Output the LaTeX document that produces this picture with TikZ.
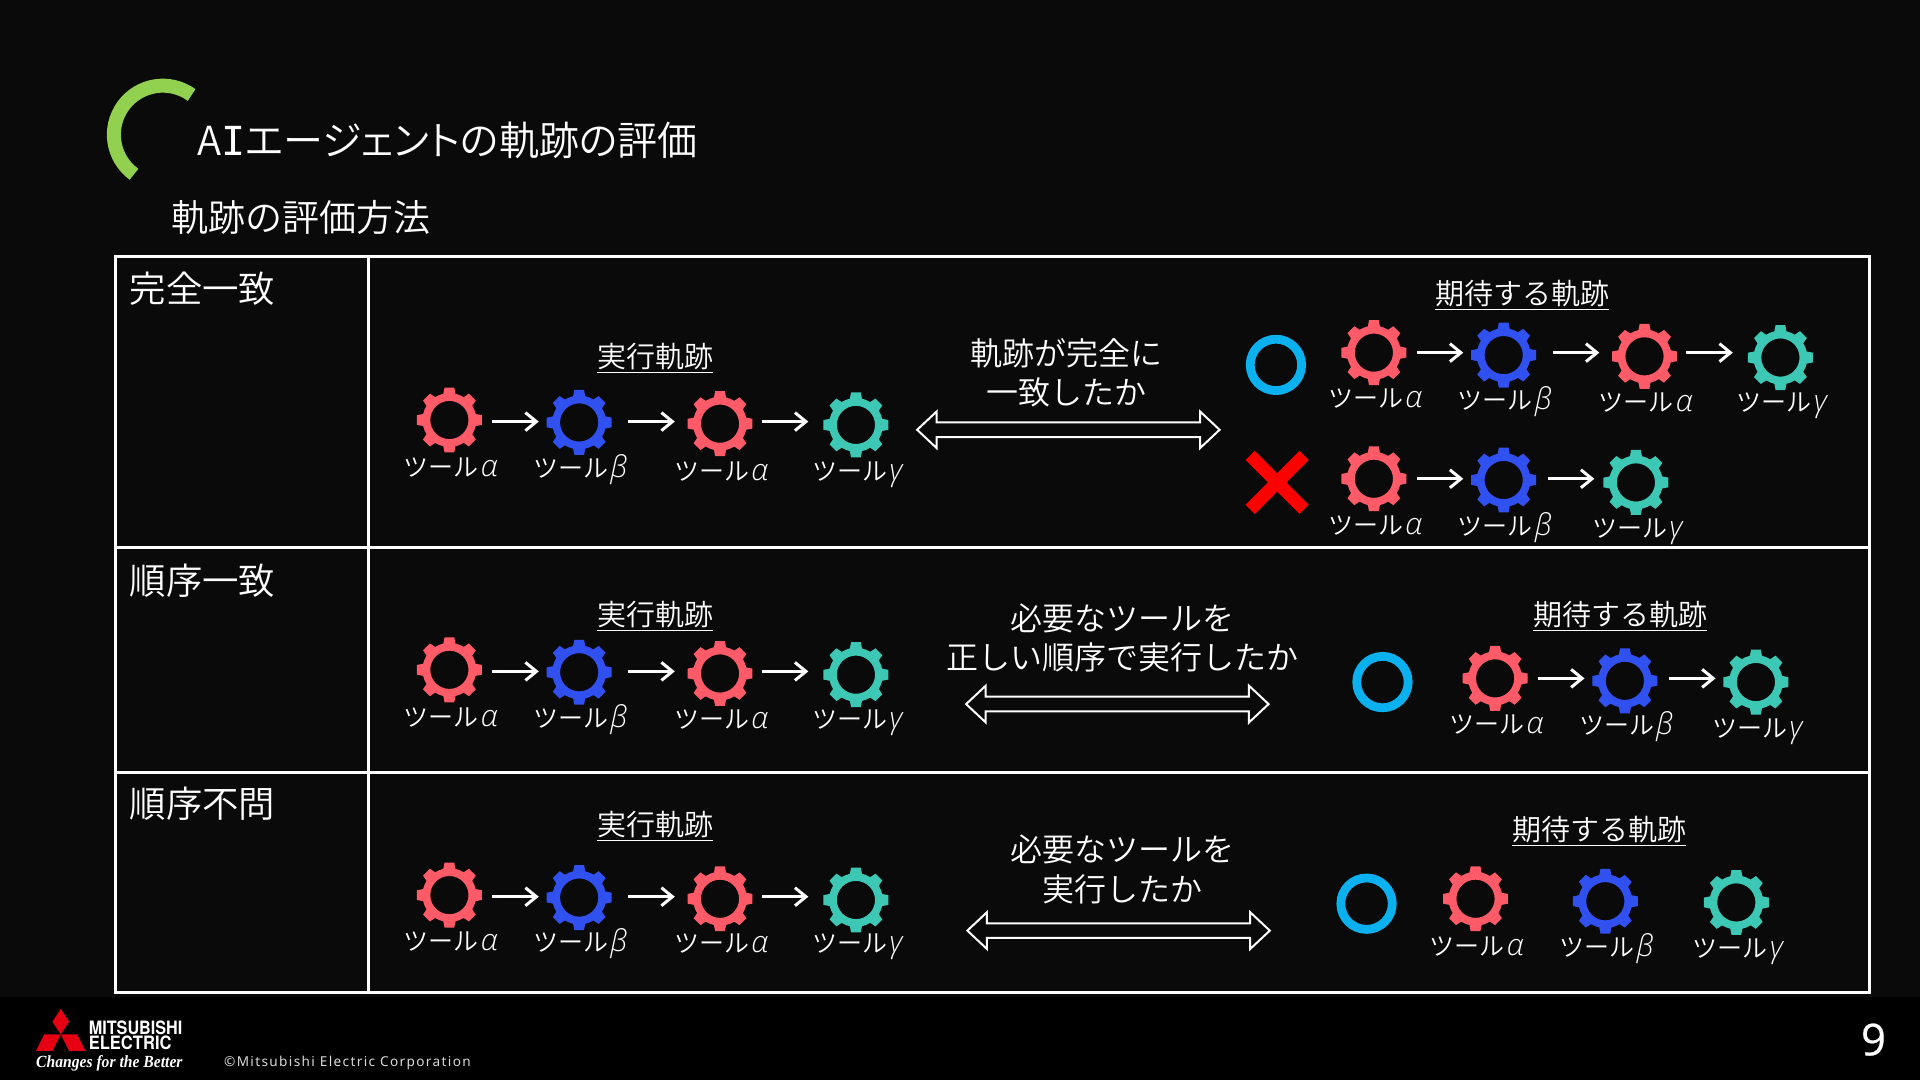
\documentclass[tikz,border=0pt]{standalone}
\usepackage{fontspec}
\usetikzlibrary{arrows.meta}
\newfontfamily\cjk{Noto Sans CJK JP DemiLight}
\newfontfamily\cjkp[RawFeature=+palt]{Noto Sans CJK JP DemiLight}
\newfontfamily\grk{Open Sans Light}[ItalicFont={Open Sans Light Italic}]
\newfontfamily\monoi{DejaVu Sans Mono}
\newfontfamily\numf[FakeBold=0.4]{Open Sans}
\newfontfamily\copyf[LetterSpace=10]{Noto Sans}
\newfontfamily\logof{TeX Gyre Heros}
\newfontfamily\logog{Liberation Serif}
\definecolor{bgc}{HTML}{0A0A0A}
\definecolor{gpink}{HTML}{FF5A68}
\definecolor{gblue}{HTML}{3050F0}
\definecolor{gteal}{HTML}{3CC8B4}
\definecolor{ggreen}{HTML}{92D050}
\definecolor{okblue}{HTML}{0BB0EE}
\definecolor{ngred}{HTML}{FF0000}
\definecolor{logored}{HTML}{E60012}
\tikzset{
 x=0.61224pt,y=-0.61224pt,
 every node/.style={inner sep=0pt,outer sep=0pt,text=white,font=\cjk},
 gearbox/.style={circle,minimum size=32.4pt},
 gearlabel/.style={font=\cjk\fontsize{12.5pt}{14pt}\selectfont},
 head/.style={font=\cjk\fontsize{14.5pt}{17pt}\selectfont},
 desc/.style={font=\cjk\fontsize{16pt}{19.6pt}\selectfont,align=center},
 cellname/.style={anchor=west,font=\cjk\fontsize{18.2pt}{20pt}\selectfont},
 arr/.style={draw=white,line width=1.5pt,-{Straight Barb[length=5.5pt,width=9pt,line width=1.5pt]}},
 tableline/.style={draw=white,line width=1.5pt},
 twoway/.style={draw=white,line width=1pt,fill=none,line join=miter},
 gearicon/.pic={
   \path[pic actions,even odd rule]
     (-13:22) \foreach \a in {0,45,...,315}{
        -- (\a-13:22) -- (\a-8.5:26.8) -- (\a+8.5:26.8) -- (\a+13:22)
        arc[start angle=\a+13,end angle=\a+32,radius=22] } -- cycle
     (15.6,0) arc[start angle=0,end angle=360,radius=15.6] -- cycle;
 }
}
\newcommand\gearitem[7]{% name x y colour labx laby greek
 \pic[fill=#4] at (#2,#3) {gearicon};
 \node[gearbox] (#1) at (#2,#3) {};
 \node[gearlabel] (#1l) at (#5,#6-0.3) {\vphantom{ツ{\grk\itshape\fontsize{15pt}{14pt}\selectfont βγ}}ツール\hspace{1pt}{\grk\itshape\fontsize{15pt}{14pt}\selectfont #7}};
}
% from gear, to gear, gear fixing the height, extra shift, shorten start, shorten end
\newcommand\flow[6]{%
 \draw[arr,shorten <=#5pt,shorten >=#6pt,transform canvas={yshift=#4pt}] (#1.east |- #3.east) -- (#2.west |- #3.east);
}
\newcommand\wayarrow[3]{% tip x, y, name
 \coordinate (#3a) at (#1,#2);
 \coordinate (#3b) at (#1+247,#2);
 \draw[twoway] (#3a) -- ++(16,-15) -- ++(0,9) -- ++(215,0) -- ++(0,-9) -- (#3b) -- ++(-16,15) -- ++(0,-9) -- ++(-215,0) -- ++(0,9) -- cycle;
}
\begin{document}
\begin{tikzpicture}
\useasboundingbox (0,0) rectangle (1568,882);
\fill[bgc] (0,0) rectangle (1568,882);
\fill[black] (0,814) rectangle (1568,882);
% title
\coordinate (arcstart) at (156.5,77.6);
\draw[ggreen,line width=7pt] (arcstart) arc[start angle=-54,end angle=-234,radius=40];
\node[anchor=west,font=\cjkp\fontsize{20pt}{24pt}\selectfont] (title) at (161,115) {A{\monoi I}エージェントの軌跡の評価};
\node[anchor=west,font=\cjk\fontsize{18.5pt}{22pt}\selectfont] (sub) at (140,177.5) {軌跡の評価方法};
% table
\coordinate (tl) at (94.5,209.5);
\coordinate (br) at (1526.5,810.5);
\draw[tableline] (tl) rectangle (br);
\draw[tableline] (301,209.5) -- (301,810.5);
\draw[tableline] (94.5,447.5) -- (1526.5,447.5);
\draw[tableline] (94.5,630.5) -- (1526.5,630.5);
\node[cellname] (c1) at (106,236) {完全一致};
\node[cellname] (c2) at (106,474.5) {順序一致};
\node[cellname] (c3) at (106,656.5) {順序不問};
% row 1 executed
\node[head] (h1) at (535,292.5) {\underline{実行軌跡}};
\gearitem{a1}{367}{343}{gpink}{368}{383}{α}
\gearitem{a2}{473}{345}{gblue}{474}{384}{β}
\gearitem{a3}{588}{346}{gpink}{589}{386}{α}
\gearitem{a4}{699}{347}{gteal}{700}{386}{γ}
\flow{a1}{a2}{a1}{-0.8}{5.2}{4}
\flow{a2}{a3}{a1}{-0.8}{8.3}{6.4}
\flow{a3}{a4}{a1}{-0.8}{4.6}{7.6}
\node[desc] (d1) at (871,304.5) {軌跡が完全に\\一致したか};
\wayarrow{749}{351}{w1}
\node[head] (e1) at (1243,241.5) {\underline{期待する軌跡}};
\draw[okblue,line width=4.4pt] (1042,298) circle[radius=21];
\gearitem{b1}{1122}{288}{gpink}{1123}{327}{α}
\gearitem{b2}{1228}{290}{gblue}{1229}{328}{β}
\gearitem{b3}{1343}{291}{gpink}{1344}{330}{α}
\gearitem{b4}{1454}{292}{gteal}{1455}{330}{γ}
\flow{b1}{b2}{b1}{0}{5.2}{4}
\flow{b2}{b3}{b1}{0}{8.3}{6.4}
\flow{b3}{b4}{b1}{0}{4.6}{7.6}
\draw[ngred,line width=6.5pt] (1021,372) -- (1065,416) (1065,372) -- (1021,416);
\gearitem{f1}{1122}{391}{gpink}{1123}{430}{α}
\gearitem{f2}{1228}{392}{gblue}{1229}{431}{β}
\gearitem{f3}{1336}{394}{gteal}{1337}{433}{γ}
\flow{f1}{f2}{f1}{0}{5.2}{4}
\flow{f2}{f3}{f1}{0}{5.8}{4.6}
% row 2
\node[head] (h2) at (535,503.5) {\underline{実行軌跡}};
\gearitem{p1}{367}{547}{gpink}{368}{587}{α}
\gearitem{p2}{473}{549}{gblue}{474}{588}{β}
\gearitem{p3}{588}{550}{gpink}{589}{589}{α}
\gearitem{p4}{699}{551}{gteal}{700}{589}{γ}
\flow{p1}{p2}{p1}{-0.8}{5.2}{4}
\flow{p2}{p3}{p1}{-0.8}{8.3}{6.4}
\flow{p3}{p4}{p1}{-0.8}{4.6}{7.6}
\node[desc] (d2) at (917,521) {必要なツールを\\正しい順序で実行したか};
\wayarrow{789}{575}{w2}
\node[head] (e2) at (1323,503.5) {\underline{期待する軌跡}};
\draw[okblue,line width=4.4pt] (1129,557) circle[radius=21];
\gearitem{q1}{1221}{554}{gpink}{1222}{593}{α}
\gearitem{q2}{1327}{556}{gblue}{1328}{594}{β}
\gearitem{q3}{1434}{557}{gteal}{1435}{596}{γ}
\flow{q1}{q2}{q1}{0}{5.2}{4}
\flow{q2}{q3}{q1}{0}{5.8}{4}
% row 3
\node[head] (h3) at (535,675) {\underline{実行軌跡}};
\gearitem{r1}{367}{731}{gpink}{368}{770}{α}
\gearitem{r2}{473}{733}{gblue}{474}{771}{β}
\gearitem{r3}{588}{734}{gpink}{589}{772}{α}
\gearitem{r4}{699}{735}{gteal}{700}{772}{γ}
\flow{r1}{r2}{r1}{-0.8}{5.2}{4}
\flow{r2}{r3}{r1}{-0.8}{8.3}{6.4}
\flow{r3}{r4}{r1}{-0.8}{4.6}{7.6}
\node[desc] (d3) at (917,710) {必要なツールを\\実行したか};
\wayarrow{790}{760}{w3}
\node[head] (e3) at (1306,679) {\underline{期待する軌跡}};
\draw[okblue,line width=4.4pt] (1116,738) circle[radius=21];
\gearitem{s1}{1205}{734}{gpink}{1206}{774}{α}
\gearitem{s2}{1311}{736}{gblue}{1312}{775}{β}
\gearitem{s3}{1418}{737}{gteal}{1419}{776}{γ}
% footer
\fill[logored] (49.6,824) -- (56.4,834.4) -- (49.6,844.7) -- (42.8,834.4) -- cycle;
\fill[logored] (49.6,844.7) -- (42.7,858.3) -- (29.4,858.3) -- (36.2,844.7) -- cycle;
\fill[logored] (49.6,844.7) -- (56.5,858.3) -- (69.8,858.3) -- (63,844.7) -- cycle;
\node[anchor=west,font=\logof\bfseries\fontsize{9.2pt}{9.5pt}\selectfont] (lg1) at (72.5,839.6) {\scalebox{0.88}[1]{MITSUBISHI}};
\node[anchor=west,font=\logof\bfseries\fontsize{9.2pt}{9.5pt}\selectfont] (lg2) at (72.5,852) {\scalebox{0.9}[1]{ELECTRIC}};
\node[anchor=west,font=\logog\bfseries\itshape\fontsize{8.5pt}{9pt}\selectfont] (lg3) at (29.5,868) {\scalebox{0.92}[1]{Changes for the Better}};
\node[anchor=west,font=\copyf\fontsize{6.8pt}{8pt}\selectfont,text=white!85!black] (copy) at (183,868) {©Mitsubishi Electric Corporation};
\node[font=\numf\fontsize{22pt}{24pt}\selectfont] (pg) at (1530,849) {9};
\end{tikzpicture}
\end{document}
